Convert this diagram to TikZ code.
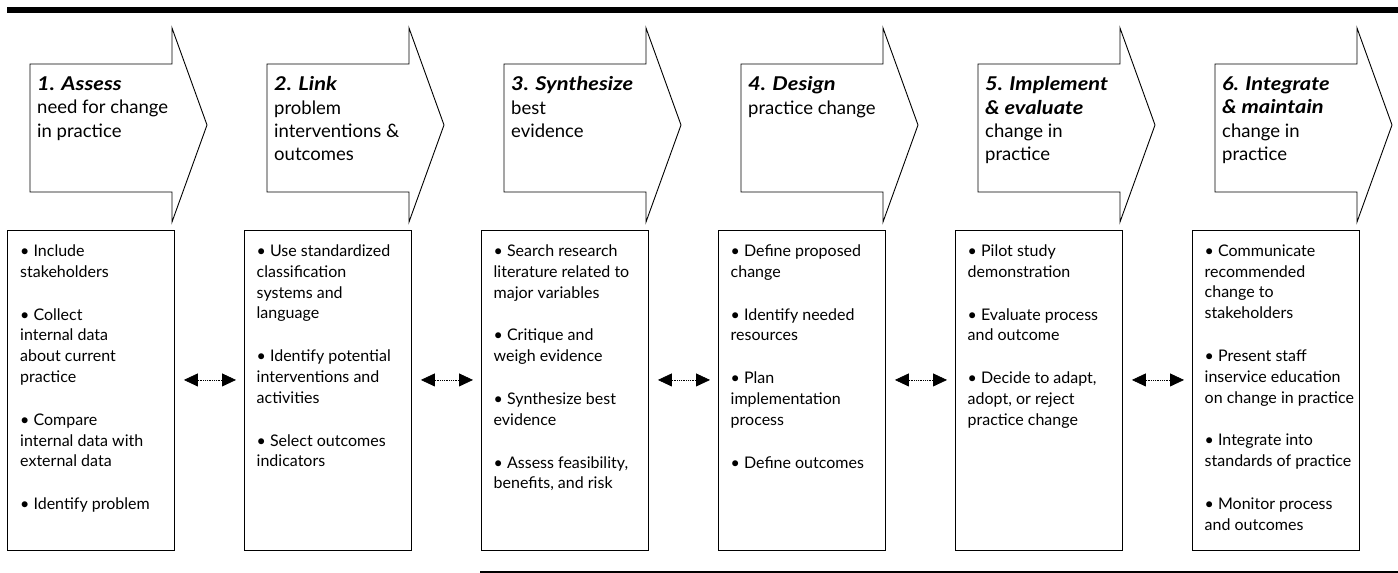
\documentclass[tikz,border=0pt]{standalone}
\usepackage{fontspec}
\setmainfont{Lato}
\usetikzlibrary{positioning,arrows.meta}

\newcommand{\boxfont}{\fontsize{16}{20.8}\selectfont}
\newcommand{\headfont}{\fontsize{18.5}{23.3}\selectfont}
\newcommand{\stepname}[1]{{\fontsize{19}{23.3}\selectfont\bfseries\itshape\addfontfeatures{FakeStretch=1.15}#1}}

\begin{document}
\begin{tikzpicture}[x=1pt, y=-1pt,
	arrowshape/.style={draw, line width=0.9pt},
	headtext/.style={anchor=north west, align=left, inner sep=0, font=\headfont},
	stepbox/.style={draw, line width=0.9pt, anchor=north west, inner sep=0, minimum width=167pt, minimum height=320pt},
	boxtext/.style={anchor=north west, align=left, inner sep=0, font=\boxfont},
	link/.style={densely dotted, line width=0.8pt, {Triangle[length=14pt,width=13pt]}-{Triangle[length=14pt,width=13pt]}}]
		\useasboundingbox (0,0) rectangle (1398,573);
		% rules
		\draw[line width=5.5pt] (7,10) -- (1398,10);
		\draw[line width=3pt] (480,572) -- (1398,572);
		% step arrows
		\coordinate (a1) at (30,64);
		\coordinate (a2) at (267,64);
		\coordinate (a3) at (504,64);
		\coordinate (a4) at (741,64);
		\coordinate (a5) at (978,64);
		\coordinate (a6) at (1215,64);
		\draw[arrowshape] (a1) -- ++(142,0) -- ++(0,-36) -- ++(35,97) -- ++(-35,97) -- ++(0,-30) -- ++(-142,0) -- cycle;
		\draw[arrowshape] (a2) -- ++(142,0) -- ++(0,-36) -- ++(35,97) -- ++(-35,97) -- ++(0,-30) -- ++(-142,0) -- cycle;
		\draw[arrowshape] (a3) -- ++(142,0) -- ++(0,-36) -- ++(35,97) -- ++(-35,97) -- ++(0,-30) -- ++(-142,0) -- cycle;
		\draw[arrowshape] (a4) -- ++(142,0) -- ++(0,-36) -- ++(35,97) -- ++(-35,97) -- ++(0,-30) -- ++(-142,0) -- cycle;
		\draw[arrowshape] (a5) -- ++(142,0) -- ++(0,-36) -- ++(35,97) -- ++(-35,97) -- ++(0,-30) -- ++(-142,0) -- cycle;
		\draw[arrowshape] (a6) -- ++(142,0) -- ++(0,-36) -- ++(35,97) -- ++(-35,97) -- ++(0,-30) -- ++(-142,0) -- cycle;
		\node[headtext, below right=12.5pt and 7pt of a1] (h1) {\stepname{1. Assess}\\need for change\\in practice};
		\node[headtext, below right=12.5pt and 7pt of a2] (h2) {\stepname{2. Link}\\problem\\interventions \&\\outcomes};
		\node[headtext, below right=12.5pt and 7pt of a3] (h3) {\stepname{3. Synthesize}\\best\\evidence};
		\node[headtext, below right=12.5pt and 7pt of a4] (h4) {\stepname{4. Design}\\practice change};
		\node[headtext, below right=12.5pt and 7pt of a5] (h5) {\stepname{5. Implement}\\\stepname{\& evaluate}\\change in\\practice};
		\node[headtext, below right=12.5pt and 7pt of a6] (h6) {\stepname{6. Integrate}\\\stepname{\& maintain}\\change in\\practice};
		% task boxes
		\node[stepbox] (b1) at (7,230) {};
		\node[stepbox] (b2) at (244,230) {};
		\node[stepbox] (b3) at (481,230) {};
		\node[stepbox] (b4) at (718,230) {};
		\node[stepbox] (b5) at (955,230) {};
		\node[stepbox] (b6) at (1192,230) {};
		\node[boxtext, below right=14.5pt and 13pt of b1.north west] (t1) {\textbullet\ Include\\stakeholders\\[22pt]\textbullet\ Collect\\internal data\\about current\\practice\\[22pt]\textbullet\ Compare\\internal data with\\external data\\[22pt]\textbullet\ Identify problem};
		\node[boxtext, below right=14.5pt and 12.5pt of b2.north west] (t2) {\textbullet\ Use standardized\\classification\\systems and\\language\\[22pt]\textbullet\ Identify potential\\interventions and\\activities\\[22pt]\textbullet\ Select outcomes\\indicators};
		\node[boxtext, below right=14.5pt and 12.5pt of b3.north west] (t3) {\textbullet\ Search research\\literature related to\\major variables\\[22pt]\textbullet\ Critique and\\weigh evidence\\[22pt]\textbullet\ Synthesize best\\evidence\\[22pt]\textbullet\ Assess feasibility,\\benefits, and risk};
		\node[boxtext, below right=14.5pt and 12.5pt of b4.north west] (t4) {\textbullet\ Define proposed\\change\\[22pt]\textbullet\ Identify needed\\resources\\[22pt]\textbullet\ Plan\\implementation\\process\\[22pt]\textbullet\ Define outcomes};
		\node[boxtext, below right=14.5pt and 12.5pt of b5.north west] (t5) {\textbullet\ Pilot study\\demonstration\\[22pt]\textbullet\ Evaluate process\\and outcome\\[22pt]\textbullet\ Decide to adapt,\\adopt, or reject\\practice change};
		\node[boxtext, below right=14.5pt and 12.5pt of b6.north west] (t6) {\textbullet\ Communicate\\recommended\\change to\\stakeholders\\[22pt]\textbullet\ Present staff\\inservice education\\on change in practice\\[22pt]\textbullet\ Integrate into\\standards of practice\\[22pt]\textbullet\ Monitor process\\and outcomes};
		% links
		\draw[link] ([xshift=9pt, yshift=10.5pt]b1.east) -- ([xshift=-8pt, yshift=10.5pt]b2.west);
		\draw[link] ([xshift=9pt, yshift=10.5pt]b2.east) -- ([xshift=-8pt, yshift=10.5pt]b3.west);
		\draw[link] ([xshift=9pt, yshift=10.5pt]b3.east) -- ([xshift=-8pt, yshift=10.5pt]b4.west);
		\draw[link] ([xshift=9pt, yshift=10.5pt]b4.east) -- ([xshift=-8pt, yshift=10.5pt]b5.west);
		\draw[link] ([xshift=9pt, yshift=10.5pt]b5.east) -- ([xshift=-8pt, yshift=10.5pt]b6.west);
	\end{tikzpicture}
\end{document}
